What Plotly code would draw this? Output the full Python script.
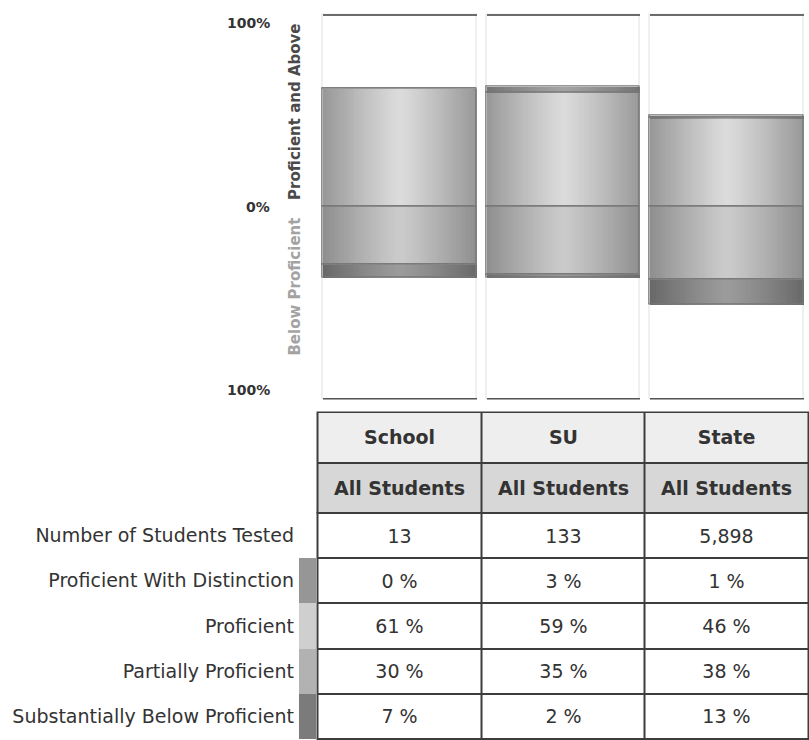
import plotly.graph_objects as go

# ---------------- data ----------------
groups = ["School", "SU", "State"]
subgroups = ["All Students", "All Students", "All Students"]
tested = [13, 133, 5898]
distinction = [0, 3, 1]
proficient = [61, 59, 46]
partial = [30, 35, 38]
substantial = [7, 2, 13]
row_labels = ["Number of Students Tested", "Proficient With Distinction",
              "Proficient", "Partially Proficient", "Substantially Below Proficient"]
axis_ticks = [100, 0, -100]
axis_tick_text = ["100%", "0%", "100%"]

# ---------------- style ----------------
W, H = 809, 740
FONT = "DejaVu Sans"
TXT = "#333333"
X_DOM = [317.5 / W, 808.5 / W]
CHART_DOM = [1 - 399.5 / H, 1 - 13.5 / H]
HEAD_DOM = [1 - 513 / H, 1 - 412 / H]
BODY_DOM = [1 - 739 / H, 1 - 513 / H]
SW_DOM = [299 / W, 316 / W]
PANEL_W = 0.94
N_LAYERS = 26
TABLE_SIZE = 19

# segment styles: (edge grey, centre grey)
seg_styles = {
    "Proficient": (151, 220),
    "Proficient With Distinction": (116, 164),
    "Partially Proficient": (142, 203),
    "Substantially Below Proficient": (104, 156),
}


def grey(v):
    v = int(round(v))
    return "#%02x%02x%02x" % (v, v, v)


# segments derived from the data (base, signed height)
segments = [
    ("Proficient", [0] * 3, proficient),
    ("Proficient With Distinction", proficient, distinction),
    ("Partially Proficient", [0] * 3, [-v for v in partial]),
    ("Substantially Below Proficient", [-v for v in partial], [-v for v in substantial]),
]

fig = go.Figure()

# panel frames
fig.add_trace(go.Bar(x=groups, y=[200] * 3, base=[-100] * 3, width=PANEL_W,
                     marker=dict(color="white", line=dict(color="#e0e0e0", width=1)),
                     hoverinfo="skip", showlegend=False))
fig.add_trace(go.Bar(x=groups, y=[1.2] * 3, base=[98.8] * 3, width=PANEL_W,
                     marker=dict(color="#6c6c6c", line=dict(width=0)),
                     hoverinfo="skip", showlegend=False))
fig.add_trace(go.Bar(x=groups, y=[1.2] * 3, base=[-100] * 3, width=PANEL_W,
                     marker=dict(color="#555555", line=dict(width=0)),
                     hoverinfo="skip", showlegend=False))

# cylinder-shaded segments built from concentric overlaid bars
for name, base, vals in segments:
    edge, centre = seg_styles[name]
    for k in range(N_LAYERS):
        u_out = 1 - k / N_LAYERS
        u_mid = 1 - (k + 0.5) / N_LAYERS
        t = 1 - u_mid ** 1.15
        fig.add_trace(go.Bar(x=groups, y=vals, base=base, width=PANEL_W * u_out,
                             marker=dict(color=grey(edge + (centre - edge) * t),
                                         line=dict(width=0)),
                             hoverinfo="skip", showlegend=False))
    fig.add_trace(go.Bar(x=groups, y=vals, base=base, width=PANEL_W,
                         marker=dict(color="rgba(0,0,0,0)",
                                     line=dict(color="#777777", width=1.3)),
                         hoverinfo="skip", showlegend=False))

# ---------------- table ----------------
header_text = [groups, subgroups]
fig.add_trace(go.Heatmap(
    x=groups, y=["group", "subgroup"], z=[[0, 0, 0], [1, 1, 1]], text=header_text,
    texttemplate="<b>%{text}</b>",
    textfont=dict(family=FONT, size=TABLE_SIZE, color=TXT),
    colorscale=[[0, "#eeeeee"], [1, "#d7d7d7"]], zmin=0, zmax=1, showscale=False,
    xgap=2, ygap=2, hoverinfo="skip", xaxis="x2", yaxis="y2"))

body_text = [[f"{v:,}" for v in tested],
             [f"{v} %" for v in distinction],
             [f"{v} %" for v in proficient],
             [f"{v} %" for v in partial],
             [f"{v} %" for v in substantial]]
fig.add_trace(go.Heatmap(
    x=groups, y=row_labels, z=[[0, 0, 0] for _ in row_labels], text=body_text,
    texttemplate="%{text}",
    textfont=dict(family=FONT, size=TABLE_SIZE, color=TXT),
    colorscale=[[0, "white"], [1, "white"]], zmin=0, zmax=1, showscale=False,
    xgap=2, ygap=2, hoverinfo="skip", xaxis="x3", yaxis="y3"))

sw_colors = ["#ffffff", "#969696", "#cfcfcf", "#b2b2b2", "#7b7b7b"]
n = len(sw_colors)
sw_scale = []
for i, c in enumerate(sw_colors):
    sw_scale.append([i / n, c])
    sw_scale.append([(i + 1) / n, c])
fig.add_trace(go.Heatmap(
    x=["key"], y=row_labels, z=[[i] for i in range(n)],
    colorscale=sw_scale, zmin=-0.5, zmax=n - 0.5, showscale=False,
    hoverinfo="skip", xaxis="x4", yaxis="y4"))

# table border backgrounds
for ax in ["2", "3"]:
    fig.add_shape(type="rect", xref=f"x{ax} domain", yref=f"y{ax} domain",
                  x0=-0.002, x1=1.002, y0=-0.005, y1=1.005,
                  fillcolor="#3d3d3d", line=dict(width=0), layer="below")

# ---------------- axis text ----------------
ann = []
anchors = ["top", "middle", "bottom"]
for v, t, a in zip(axis_ticks, axis_tick_text, anchors):
    ann.append(dict(x=272 / W, xref="paper", xanchor="right", y=v, yref="y", yanchor=a,
                    text=t, showarrow=False,
                    font=dict(family=FONT, size=14, color=TXT, weight="bold")))
ann.append(dict(x=295 / W, xref="paper", y=49, yref="y", text="Proficient and Above",
                textangle=-90, showarrow=False,
                font=dict(family=FONT, size=15, color="#4a4a4a", weight="bold")))
ann.append(dict(x=295 / W, xref="paper", y=-41.5, yref="y", text="Below Proficient",
                textangle=-90, showarrow=False,
                font=dict(family=FONT, size=15, color="#a3a3a3", weight="bold")))

hidden = dict(showgrid=False, zeroline=False, showline=False, showticklabels=False,
              ticks="", fixedrange=True)

fig.update_layout(
    width=W, height=H, margin=dict(l=0, r=0, t=0, b=0),
    paper_bgcolor="white", plot_bgcolor="white",
    barmode="overlay", bargap=0, showlegend=False, hovermode=False,
    annotations=ann,
    xaxis=dict(domain=X_DOM, type="category", range=[-0.5, 2.5], **hidden),
    yaxis=dict(domain=CHART_DOM, range=[-100, 100], **hidden),
    xaxis2=dict(domain=X_DOM, anchor="y2", type="category", range=[-0.5, 2.5], **hidden),
    yaxis2=dict(domain=HEAD_DOM, anchor="x2", type="category", range=[1.5, -0.5], **hidden),
    xaxis3=dict(domain=X_DOM, anchor="y3", type="category", range=[-0.5, 2.5], **hidden),
    yaxis3=dict(domain=BODY_DOM, anchor="x3", type="category", range=[4.5, -0.5], **hidden),
    xaxis4=dict(domain=SW_DOM, anchor="y4", type="category", range=[-0.5, 0.5], **hidden),
    yaxis4=dict(domain=BODY_DOM, anchor="x4", type="category", range=[4.5, -0.5],
                showgrid=False, zeroline=False, showline=False, ticks="",
                showticklabels=True, ticklabelstandoff=4,
                tickfont=dict(family=FONT, size=TABLE_SIZE, color=TXT), fixedrange=True),
)

fig.write_html("out.html", config={"displayModeBar": False},
               post_script="document.body.style.margin='0';"
                           "document.body.style.overflow='hidden';")
